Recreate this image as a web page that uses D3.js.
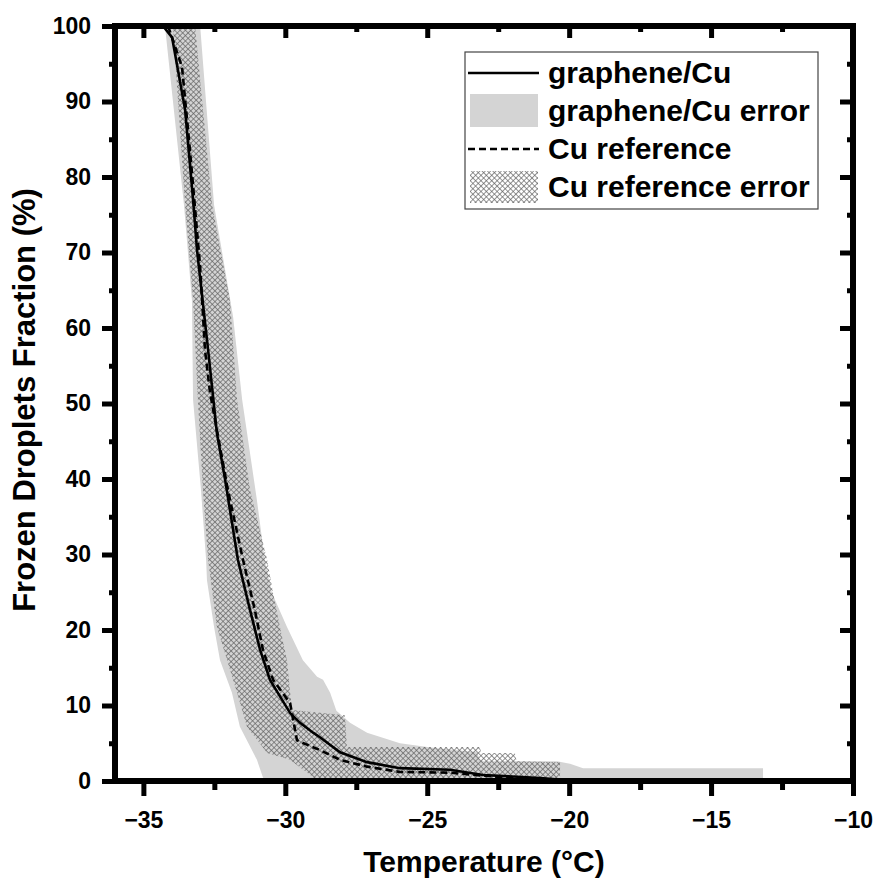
<html>
<head>
<script src="https://d3js.org/d3.v7.min.js"></script>
<style>
  body { margin: 0; background: #fff; }
  text { font-family: Arial, "Liberation Sans", sans-serif; font-weight: bold; }
</style>
</head>
<body>
<svg id="svg" width="879" height="883"></svg>
<script>
// ---- data: [temperature (°C), frozen fraction (%)] ----
var grapheneCu = [[-34.31,100],[-33.99,98.5],[-33.53,88.9],[-33.25,77.0],[-33.11,70.3],[-32.72,57.1],
  [-32.41,46.1],[-32.12,39.9],[-31.67,29.3],[-31.24,22.6],[-30.89,17.4],[-30.54,13.4],[-29.83,9.0],
  [-29.48,7.7],[-29.02,6.4],[-28.78,5.8],[-28.07,3.8],[-27.12,2.5],[-25.96,1.7],[-24.20,1.5],
  [-23.03,0.8],[-21.02,0.4],[-19.69,0]];
var cuReference = [[-34.13,100],[-33.64,94.6],[-33.36,83.6],[-33.00,68.1],[-32.83,57.1],[-32.65,51.4],
  [-32.02,38.5],[-31.49,29.3],[-31.07,22.6],[-30.79,17.4],[-30.43,13.4],[-29.83,10.3],[-29.59,5.4],
  [-29.48,5.2],[-28.78,4.1],[-28.07,2.8],[-27.12,1.9],[-25.96,1.2],[-24.20,1.1],[-22.08,0.4],[-20.50,0]];

// error bands: upper edge and lower edge
var grapheneErrUpper = [[-33.00,100],[-32.51,76.3],[-31.84,61.5],[-31.52,50.5],[-31.00,37.2],[-30.71,28.9],
  [-30.47,24.9],[-29.94,20.4],[-29.38,16.0],[-28.88,13.8],[-28.67,13.4],[-28.42,11.7],[-28.20,9.3],
  [-27.72,7.7],[-27.12,6.4],[-25.96,5.0],[-24.80,4.4],[-23.24,3.8],[-23.14,2.6],[-20.43,2.6],
  [-19.97,2.3],[-19.51,1.7],[-13.17,1.7],[-13.17,0]];
var grapheneErrLower = [[-34.24,100],[-33.57,76.3],[-33.29,63.7],[-33.25,50.5],[-32.97,38.5],[-32.79,29.3],
  [-32.76,26.6],[-32.51,20.4],[-32.30,16.0],[-31.88,11.7],[-31.60,7.2],[-31.00,2.8],[-30.79,0.5],[-30.71,0]];
var cuErrUpper = [[-33.18,100],[-32.58,76.3],[-31.95,63.7],[-31.70,50.5],[-31.24,38.5],[-30.64,29.3],
  [-30.43,24.9],[-30.19,20.4],[-29.94,16.0],[-29.83,11.7],[-29.76,9.4],[-27.90,8.7],[-27.83,4.5],
  [-23.14,4.5],[-23.10,3.7],[-21.91,3.7],[-21.85,2.6],[-20.32,2.5],[-20.32,0]];
var cuErrLower = [[-33.96,100],[-33.53,76.3],[-33.25,63.7],[-33.08,50.5],[-32.90,38.5],[-32.72,29.3],
  [-32.41,20.4],[-32.05,16.0],[-31.70,11.7],[-31.35,7.2],[-30.64,3.7],[-29.83,2.8],[-29.02,0.5],[-28.95,0]];

var tempTicks = [-35, -30, -25, -20, -15, -10];
var tempMinor = [-32.5, -27.5, -22.5, -17.5, -12.5];
var fracTicks = [0, 10, 20, 30, 40, 50, 60, 70, 80, 90, 100];
var fracMinor = [5, 15, 25, 35, 45, 55, 65, 75, 85, 95];
var legendLabels = ["graphene/Cu", "graphene/Cu error", "Cu reference", "Cu reference error"];

var svg = d3.select("#svg");
var plot = {left: 115, right: 853, top: 26, bottom: 781};

var x = d3.scaleLinear().domain([-36, -10]).range([plot.left, plot.right]);
var y = d3.scaleLinear().domain([0, 100]).range([plot.bottom, plot.top]);

var defs = svg.append("defs");
defs.append("clipPath").attr("id", "clip")
  .append("rect").attr("x", plot.left).attr("y", plot.top)
  .attr("width", plot.right - plot.left).attr("height", plot.bottom - plot.top);

var hs = 3.8;
var hatch = defs.append("pattern").attr("id", "hatch")
  .attr("patternUnits", "userSpaceOnUse").attr("width", hs).attr("height", hs)
  .attr("patternTransform", "rotate(45)");
hatch.append("line").attr("x1", 0).attr("y1", 0).attr("x2", 0).attr("y2", hs)
  .attr("stroke", "#5e5e5e").attr("stroke-width", 1.3);
hatch.append("line").attr("x1", 0).attr("y1", 0).attr("x2", hs).attr("y2", 0)
  .attr("stroke", "#5e5e5e").attr("stroke-width", 1.3);

var line = d3.line().x(function(d){ return x(d[0]); }).y(function(d){ return y(d[1]); });
function band(upper, lower) {
  return line(upper.concat(lower.slice().reverse())) + "Z";
}

var g = svg.append("g").attr("clip-path", "url(#clip)");
g.append("path").attr("d", band(grapheneErrUpper, grapheneErrLower))
  .attr("fill", "#d4d4d4").attr("stroke", "none");
g.append("path").attr("d", band(cuErrUpper, cuErrLower))
  .attr("fill", "url(#hatch)").attr("stroke", "none");
g.append("path").datum(cuReference).attr("d", line)
  .attr("fill", "none").attr("stroke", "#000").attr("stroke-width", 2.6)
  .attr("stroke-dasharray", "7,4");
g.append("path").datum(grapheneCu).attr("d", line)
  .attr("fill", "none").attr("stroke", "#000").attr("stroke-width", 2.6);

// axes
function styleAxis(sel, fs) {
  sel.select(".domain").remove();
  sel.selectAll(".tick line").attr("stroke", "#000").attr("stroke-width", 5);
  sel.selectAll(".tick text").attr("fill", "#000").style("font-size", fs + "px");
}
var axBottom = svg.append("g").attr("transform", "translate(0," + plot.bottom + ")")
  .call(d3.axisBottom(x).tickValues(tempTicks).tickSize(15).tickPadding(16).tickFormat(d3.format("d")));
styleAxis(axBottom, 23);
var axBottomMinor = svg.append("g").attr("transform", "translate(0," + plot.bottom + ")")
  .call(d3.axisBottom(x).tickValues(tempMinor).tickSize(9).tickFormat(""));
styleAxis(axBottomMinor, 0);

var axTop = svg.append("g").attr("transform", "translate(0," + plot.top + ")")
  .call(d3.axisBottom(x).tickValues(tempTicks).tickSize(12).tickFormat(""));
styleAxis(axTop, 0);
var axTopMinor = svg.append("g").attr("transform", "translate(0," + plot.top + ")")
  .call(d3.axisBottom(x).tickValues(tempMinor).tickSize(6).tickFormat(""));
styleAxis(axTopMinor, 0);

var axLeft = svg.append("g").attr("transform", "translate(" + plot.left + ",0)")
  .call(d3.axisLeft(y).tickValues(fracTicks).tickSize(13).tickPadding(11));
styleAxis(axLeft, 23);
var axLeftMinor = svg.append("g").attr("transform", "translate(" + plot.left + ",0)")
  .call(d3.axisLeft(y).tickValues(fracMinor).tickSize(6).tickFormat(""));
styleAxis(axLeftMinor, 0);

var axRight = svg.append("g").attr("transform", "translate(" + plot.right + ",0)")
  .call(d3.axisLeft(y).tickValues(fracTicks).tickSize(13).tickFormat(""));
styleAxis(axRight, 0);
var axRightMinor = svg.append("g").attr("transform", "translate(" + plot.right + ",0)")
  .call(d3.axisLeft(y).tickValues(fracMinor).tickSize(6).tickFormat(""));
styleAxis(axRightMinor, 0);

svg.append("rect").attr("x", plot.left).attr("y", plot.top)
  .attr("width", plot.right - plot.left).attr("height", plot.bottom - plot.top)
  .attr("fill", "none").attr("stroke", "#000").attr("stroke-width", 6);

// axis titles
svg.append("text").attr("x", 484).attr("y", 872).attr("text-anchor", "middle")
  .style("font-size", "30px").text("Temperature (°C)");
svg.append("text").attr("transform", "translate(35,400) rotate(-90)").attr("text-anchor", "middle")
  .style("font-size", "31px").text("Frozen Droplets Fraction (%)");

// legend
var lg = svg.append("g");
lg.append("rect").attr("x", 465).attr("y", 52).attr("width", 353).attr("height", 157)
  .attr("fill", "#fff").attr("stroke", "#444").attr("stroke-width", 1.2);
var rowY = [73, 111, 149, 187];
lg.append("line").attr("x1", 468).attr("x2", 539).attr("y1", rowY[0]).attr("y2", rowY[0])
  .attr("stroke", "#000").attr("stroke-width", 2.6);
lg.append("rect").attr("x", 470).attr("y", rowY[1] - 17).attr("width", 68).attr("height", 33)
  .attr("fill", "#d4d4d4");
lg.append("line").attr("x1", 468).attr("x2", 539).attr("y1", rowY[2]).attr("y2", rowY[2])
  .attr("stroke", "#000").attr("stroke-width", 2.6).attr("stroke-dasharray", "7,4");
lg.append("rect").attr("x", 470).attr("y", rowY[3] - 16).attr("width", 68).attr("height", 32)
  .attr("fill", "url(#hatch)");
lg.selectAll("text.leg").data(legendLabels).enter().append("text").attr("class", "leg")
  .attr("x", 548).attr("y", function(d, i){ return rowY[i] + 10; })
  .style("font-size", "30px").text(function(d){ return d; });
</script>
</body>
</html>
